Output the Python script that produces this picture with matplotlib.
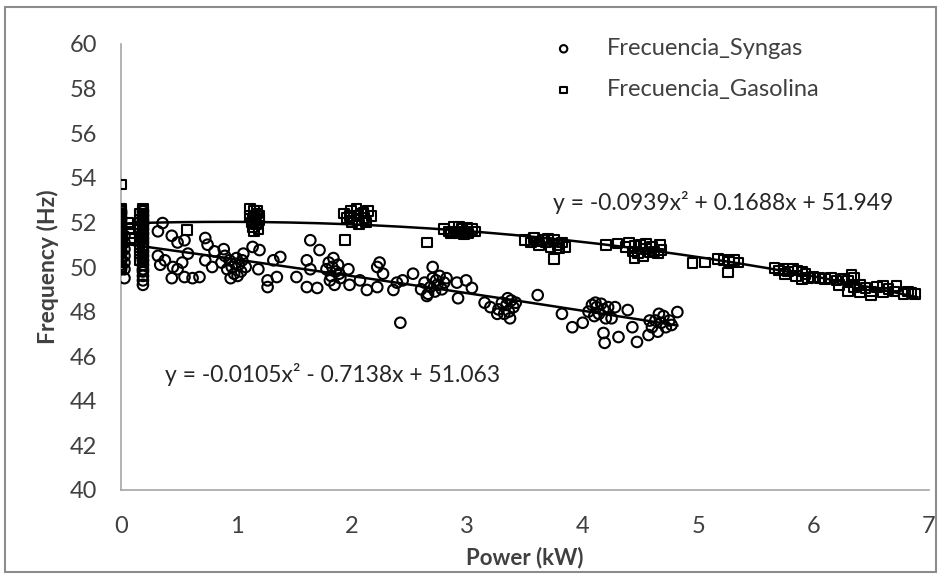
import numpy as np
import matplotlib
matplotlib.use("Agg")
import matplotlib.pyplot as plt
from matplotlib.patches import Rectangle

plt.rcParams['font.family'] = ['Lato', 'DejaVu Sans']

# ---------------- data ----------------
gas_col0_y = [49.9, 50.0, 50.2, 50.3, 50.5, 50.6, 50.8, 50.9, 51.0, 51.1, 51.2, 51.4, 51.5,
              51.6, 51.7, 51.8, 51.9, 52.0, 52.1, 52.2, 52.3, 52.4, 52.5, 52.6, 53.7]
gas_col1_y = [50.1, 50.2, 50.4, 50.5, 50.7, 50.8, 51.0, 51.1, 51.3, 51.4, 51.6, 51.7,
              51.9, 52.0, 52.1, 52.2, 52.3, 52.4, 52.5, 52.6]
gas_col2_y = [50.3, 50.6, 50.9, 51.2, 51.5, 51.8, 52.1, 52.4]
gas_x = [0.06, 0.07, 0.08, 0.09, 0.57,
         1.12, 1.15, 1.18, 1.12, 1.16, 1.20, 1.13, 1.17, 1.14, 1.19, 1.15, 1.18, 1.20, 1.14,
         1.93, 1.96, 1.99, 2.02, 2.05, 2.08, 2.11, 2.14, 2.17, 2.00, 2.06, 2.12, 1.98, 2.04, 2.10,
         1.94, 2.65,
         2.80, 2.84, 2.88, 2.92, 2.95, 2.98, 3.01, 3.04, 3.07, 2.86, 2.93, 3.00, 2.90, 2.97,
         3.50, 3.55, 3.58, 3.62, 3.65, 3.68, 3.72, 3.75, 3.78, 3.82, 3.85, 3.60, 3.70, 3.80,
         3.75,
         4.20, 4.30, 4.37, 4.40, 4.43, 4.45, 4.48, 4.50, 4.52, 4.55, 4.58, 4.60, 4.62, 4.65,
         4.68, 4.55, 4.67, 4.45,
         4.95, 5.06, 5.17, 5.22, 5.27, 5.31, 5.35, 5.26,
         5.66, 5.70, 5.74, 5.78, 5.82, 5.86, 5.90, 5.93, 5.75,
         5.85, 5.95, 6.00, 6.05, 6.10, 6.15, 6.20, 6.25, 6.30, 6.35, 6.33, 5.90,
         6.22, 6.30, 6.35, 6.40, 6.45, 6.50, 6.55, 6.60, 6.65, 6.70, 6.72, 6.40, 6.50, 6.60,
         6.78, 6.82, 6.85, 6.88]
gas_y = [52.0, 51.7, 51.5, 51.3, 51.66,
         52.6, 52.5, 52.4, 52.3, 52.2, 52.1, 52.0, 51.9, 51.8, 51.7, 51.6, 52.5, 52.3, 52.1,
         52.4, 52.2, 52.5, 52.3, 52.1, 52.4, 52.2, 52.5, 52.3, 52.0, 51.9, 52.0, 52.3, 52.6, 52.45,
         51.2, 51.1,
         51.7, 51.6, 51.8, 51.5, 51.7, 51.6, 51.5, 51.7, 51.6, 51.5, 51.8, 51.75, 51.6, 51.45,
         51.2, 51.1, 51.3, 51.0, 51.2, 51.1, 50.9, 51.2, 51.0, 51.1, 50.9, 51.15, 51.25, 50.85,
         50.35,
         51.0, 51.05, 50.9, 51.1, 50.7, 50.95, 50.6, 51.0, 50.5, 50.8, 50.65, 50.9, 50.7, 50.6,
         50.75, 51.05, 51.0, 50.4,
         50.17, 50.2, 50.35, 50.3, 50.25, 50.3, 50.2, 49.75,
         49.95, 49.85, 49.9, 49.8, 49.9, 49.85, 49.8, 49.7, 49.7,
         49.6, 49.5, 49.55, 49.5, 49.45, 49.5, 49.4, 49.45, 49.4, 49.5, 49.65, 49.45,
         49.2, 48.9, 49.1, 48.85, 49.05, 48.9, 49.1, 48.85, 49.0, 48.9, 49.15, 49.2, 48.75, 49.15,
         48.8, 48.9, 48.85, 48.8]

syn_col0_y = [49.9, 50.0, 50.1, 50.3, 50.4, 50.6, 50.7, 50.9, 51.0, 51.2, 51.3, 51.5,
              51.6, 51.8, 51.9, 52.1, 52.2, 52.4, 52.5]
syn_col1_y = [49.2, 49.4, 49.6, 49.8, 49.9, 50.1, 50.3, 50.5, 50.7, 50.9, 51.1, 51.3,
              51.5, 51.7, 51.9, 52.1, 52.3, 52.5]
syn_col2_y = [49.5, 49.9, 50.2, 50.5, 50.8, 51.1, 51.4]
syn_x = [0.36, 0.32, 0.44, 0.49, 0.55, 0.73, 0.75, 0.81, 0.32, 0.38, 0.34, 0.45, 0.53, 0.49,
         0.44, 0.55, 0.62, 0.68, 0.73, 0.79, 0.58,
         0.87, 0.90, 0.92, 0.94, 0.96, 0.98, 1.00, 1.02, 1.04, 1.06, 1.08, 0.95, 1.01, 0.89, 1.05, 0.99,
         1.14, 1.20, 1.19, 1.27, 1.27, 1.32, 1.38, 1.35, 1.64, 1.72, 1.61, 1.52, 1.61, 1.70, 1.64,
         1.78, 1.80, 1.82, 1.84, 1.86, 1.88, 1.90, 1.85, 1.83, 1.89, 1.81,
         1.97, 1.98, 2.07, 2.13, 2.22, 2.24, 2.22, 2.27, 2.36, 2.42,
         2.39, 2.44, 2.53,
         2.60, 2.63, 2.66, 2.68, 2.70, 2.72, 2.74, 2.76, 2.78, 2.80, 2.65, 2.73,
         2.70, 2.82, 2.91, 2.99, 3.04, 2.92, 3.15, 3.20, 3.26,
         3.27, 3.30, 3.32, 3.34, 3.36, 3.38, 3.40, 3.42, 3.35, 3.37,
         3.61, 3.82, 3.91, 4.00,
         4.05, 4.08, 4.10, 4.12, 4.14, 4.16, 4.18, 4.20, 4.22, 4.11,
         4.28, 4.39, 4.18, 4.19, 4.31, 4.43, 4.47, 4.58, 4.57, 4.25, 4.82,
         4.60, 4.63, 4.65, 4.68, 4.70, 4.72, 4.75, 4.77, 4.66]
syn_y = [51.97, 51.6, 51.4, 51.1, 51.2, 51.3, 51.0, 50.7, 50.5, 50.3, 50.1, 50.0, 50.2, 49.9,
         49.5, 49.55, 49.5, 49.55, 50.3, 50.0, 50.6,
         50.2, 50.5, 49.9, 50.3, 50.0, 49.7, 50.4, 50.1, 49.8, 50.6, 50.0, 49.5, 49.6, 50.8, 50.3, 50.15,
         50.9, 50.76, 49.9, 49.4, 49.1, 50.3, 50.45, 49.55, 51.2, 50.76, 50.3, 49.55, 49.1, 49.06, 49.9,
         49.9, 50.2, 49.6, 50.4, 49.8, 50.1, 49.5, 49.2, 50.0, 49.7, 49.4,
         49.9, 49.2, 49.4, 48.97, 49.1, 50.2, 50.0, 49.7, 48.97, 47.5,
         49.3, 49.4, 49.7,
         49.0, 49.3, 48.8, 49.1, 49.5, 48.9, 49.2, 49.6, 49.0, 49.3, 48.7, 49.4,
         50.0, 49.5, 49.3, 49.4, 49.06, 48.6, 48.4, 48.2, 47.9,
         48.1, 48.4, 47.9, 48.3, 48.0, 48.5, 48.2, 48.4, 48.6, 47.7,
         48.74, 47.9, 47.3, 47.5,
         48.0, 48.3, 47.8, 48.2, 47.9, 48.35, 48.1, 47.7, 48.2, 48.4,
         48.2, 48.07, 47.04, 46.6, 46.86, 47.3, 46.64, 47.6, 46.95, 47.7, 47.98,
         47.3, 47.6, 47.1, 47.5, 47.8, 47.3, 47.6, 47.4, 47.9]

col0_x = 0.0
col1_x = 0.19
col2_x = 0.03
col3_x = 0.16

gas_coef = [-0.0939, 0.1688, 51.949]
syn_coef = [-0.0105, -0.7138, 51.063]
gas_range = [0.0, 6.9]
syn_range = [0.0, 4.82]
gas_eq = "y = -0.0939x\u00b2 + 0.1688x + 51.949"
syn_eq = "y = -0.0105x\u00b2 - 0.7138x + 51.063"

x_ticks = [0, 1, 2, 3, 4, 5, 6, 7]
y_ticks = [40, 42, 44, 46, 48, 50, 52, 54, 56, 58, 60]

# ---------------- figure ----------------
W, H = 941, 576
fig = plt.figure(figsize=(W / 100, H / 100), dpi=100)
ax = fig.add_axes([121 / W, 1 - 490 / H, (929 - 121) / W, (490 - 44) / H])

gx = ([col0_x] * len(gas_col0_y) + [col1_x] * len(gas_col1_y)
      + [col3_x] * len(gas_col2_y) + gas_x)
gy = gas_col0_y + gas_col1_y + gas_col2_y + gas_y
sx = ([col0_x] * len(syn_col0_y) + [col1_x] * len(syn_col1_y)
      + [col2_x] * len(syn_col2_y) + syn_x)
sy = syn_col0_y + syn_col1_y + syn_col2_y + syn_y

ax.scatter(sx, sy, s=58, marker='o', facecolors='none', edgecolors='black',
           linewidths=1.5, label='Frecuencia_Syngas', zorder=3)
ax.scatter(gx, gy, s=48, marker='s', facecolors='none', edgecolors='black',
           linewidths=1.5, label='Frecuencia_Gasolina', zorder=3)

xg = np.linspace(gas_range[0], gas_range[1], 200)
ax.plot(xg, np.polyval(gas_coef, xg), color='black', lw=1.8, zorder=4)
xs = np.linspace(syn_range[0], syn_range[1], 200)
ax.plot(xs, np.polyval(syn_coef, xs), color='black', lw=1.8, zorder=4)

ax.text(3.74, 52.87, gas_eq, fontsize=16.5, ha='left', va='center', color='#262626')
ax.text(0.38, 45.16, syn_eq, fontsize=16.5, ha='left', va='center', color='#262626')

ax.set_xlim(0, 7)
ax.set_ylim(40, 60)
ax.set_xticks(x_ticks)
ax.set_yticks(y_ticks)
ax.tick_params(axis='both', length=0, labelsize=17, colors='#404040')
ax.tick_params(axis='y', pad=17)
ax.tick_params(axis='x', pad=19)
for s in ['top', 'right']:
    ax.spines[s].set_visible(False)
for s in ['left', 'bottom']:
    ax.spines[s].set_color('#a6a6a6')
    ax.spines[s].set_linewidth(1.2)

ax.set_xlabel('Power (kW)', fontsize=16, fontweight='bold', color='#404040', labelpad=7)
ax.set_ylabel('Frequency (Hz)', fontsize=16.5, fontweight='bold', color='#404040', labelpad=8)

leg = ax.legend(loc='upper left', bbox_to_anchor=(553 / W, 1 - 38 / H),
                bbox_transform=fig.transFigure, frameon=False, fontsize=17,
                labelspacing=0.85, handlelength=0.9, handletextpad=1.4,
                borderpad=0, borderaxespad=0, markerscale=0.7)
for t in leg.get_texts():
    t.set_color('#404040')

fig.patches.append(Rectangle((5 / W, 4 / H), (936 - 5) / W, (569 - 4) / H,
                             transform=fig.transFigure, fill=False,
                             edgecolor='#8c8c8c', lw=1.5))

fig.savefig('out.png', dpi=100)
